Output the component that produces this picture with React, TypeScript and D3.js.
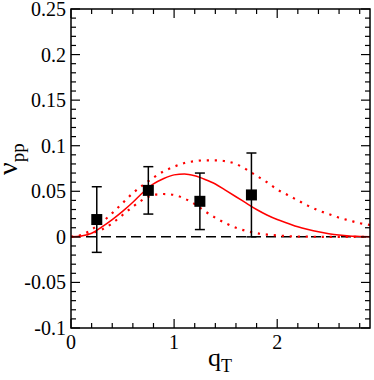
import React, { useEffect, useRef } from 'react';
import * as d3 from 'd3';

// measured points (q_T, nu_pp, error)
const pointQ = [0.25, 0.75, 1.25, 1.75];
const pointV = [0.019, 0.051, 0.039, 0.046];
const pointErr = [0.036, 0.026, 0.031, 0.046];

// curves
const curveQ = [0, 0.1, 0.2, 0.3, 0.4, 0.5, 0.6, 0.7, 0.8, 0.9, 1.0, 1.1, 1.2, 1.3, 1.4,
  1.5, 1.6, 1.7, 1.8, 1.9, 2.0, 2.1, 2.2, 2.3, 2.4, 2.5, 2.6, 2.7, 2.8, 2.9];
const centralV = [0, 0.001, 0.004, 0.011, 0.019, 0.028, 0.038, 0.049, 0.058, 0.064, 0.068,
  0.069, 0.067, 0.063, 0.058, 0.051, 0.044, 0.037, 0.030, 0.024, 0.019, 0.015, 0.011,
  0.008, 0.0055, 0.0035, 0.002, 0.001, 0.0005, 0];
const upperV = [0, 0.002, 0.008, 0.016, 0.026, 0.037, 0.048, 0.057, 0.065, 0.072, 0.077,
  0.081, 0.083, 0.084, 0.084, 0.083, 0.080, 0.074, 0.067, 0.060, 0.052, 0.046, 0.040,
  0.034, 0.029, 0.025, 0.021, 0.018, 0.015, 0.013];
const lowerV = [0, 0.001, 0.004, 0.008, 0.015, 0.024, 0.033, 0.041, 0.046, 0.047, 0.046,
  0.042, 0.036, 0.028, 0.021, 0.015, 0.010, 0.0065, 0.004, 0.0025, 0.0015, 0.0008, 0.0004,
  0.0002, 0.0001, 0, 0, 0, 0, 0];

const yTicks = [0.25, 0.2, 0.15, 0.1, 0.05, 0, -0.05, -0.1];
const yTickLabels = ['0.25', '0.2', '0.15', '0.1', '0.05', '0', '-0.05', '-0.1'];
const xTicks = [0, 1, 2];
const xTickLabels = ['0', '1', '2'];

const W = 374;
const H = 380;
const margin = { top: 9, right: 4, bottom: 52, left: 71 };
const width = W - margin.left - margin.right;
const height = H - margin.top - margin.bottom;
const serif = { fontFamily: "'Times New Roman'" };

export default function App() {
  const plotRef = useRef(null);

  const x = d3.scaleLinear().domain([0, 2.9]).range([0, width]);
  const y = d3.scaleLinear().domain([-0.1, 0.25]).range([height, 0]);

  useEffect(() => {
    const svg = d3.select(plotRef.current);
    svg.selectAll('*').remove();

    // zero line
    svg.append('line')
      .attr('x1', 0).attr('x2', width)
      .attr('y1', y(0)).attr('y2', y(0))
      .attr('stroke', 'black')
      .attr('stroke-width', 1.5)
      .attr('stroke-dasharray', '10 5');

    const line = d3.line()
      .x(d => x(d[0]))
      .y(d => y(d[1]))
      .curve(d3.curveMonotoneX);

    [upperV, lowerV].forEach(vals => {
      svg.append('path')
        .datum(curveQ.map((q, i) => [q, vals[i]]))
        .attr('d', line)
        .attr('fill', 'none')
        .attr('stroke', 'red')
        .attr('stroke-width', 2.2)
        .attr('stroke-dasharray', '2.2 5.8');
    });

    svg.append('path')
      .datum(curveQ.map((q, i) => [q, centralV[i]]))
      .attr('d', line)
      .attr('fill', 'none')
      .attr('stroke', 'red')
      .attr('stroke-width', 1.5);

    // error bars + squares
    pointQ.forEach((q, i) => {
      const cx = x(q);
      const top = y(pointV[i] + pointErr[i]);
      const bot = y(pointV[i] - pointErr[i]);
      svg.append('line')
        .attr('x1', cx).attr('x2', cx).attr('y1', top).attr('y2', bot)
        .attr('stroke', 'black').attr('stroke-width', 1.5);
      [top, bot].forEach(yy => {
        svg.append('line')
          .attr('x1', cx - 5).attr('x2', cx + 5).attr('y1', yy).attr('y2', yy)
          .attr('stroke', 'black').attr('stroke-width', 1.5);
      });
      svg.append('rect')
        .attr('x', cx - 5.5).attr('y', y(pointV[i]) - 5.5)
        .attr('width', 11).attr('height', 11)
        .attr('fill', 'black');
    });

    // ticks on all sides, pointing inward
    const ticks = svg.append('g').attr('stroke', 'black').attr('stroke-width', 1.2);
    d3.range(0, 2.9001, 0.2).forEach(v => {
      const major = Math.abs(v - Math.round(v)) < 1e-6;
      const len = major ? 9 : 5;
      ticks.append('line').attr('x1', x(v)).attr('x2', x(v))
        .attr('y1', height).attr('y2', height - len);
      ticks.append('line').attr('x1', x(v)).attr('x2', x(v))
        .attr('y1', 0).attr('y2', len);
    });
    d3.range(-0.1, 0.2501, 0.01).forEach(v => {
      const major = Math.abs(v * 20 - Math.round(v * 20)) < 1e-6;
      const len = major ? 9 : 5;
      ticks.append('line').attr('y1', y(v)).attr('y2', y(v))
        .attr('x1', 0).attr('x2', len);
      ticks.append('line').attr('y1', y(v)).attr('y2', y(v))
        .attr('x1', width).attr('x2', width - len);
    });

    // frame
    svg.append('rect')
      .attr('width', width).attr('height', height)
      .attr('fill', 'none').attr('stroke', 'black').attr('stroke-width', 1.5);
  }, []);

  return (
    <svg width={W} height={H} style={{ position: 'absolute', left: 0, top: 0 }}>
      <g transform={`translate(${margin.left}, ${margin.top})`}>
        <g ref={plotRef}></g>
        {yTicks.map((v, i) => (
          <text key={'y' + i} x={-5} y={y(v) + 7} textAnchor="end"
            style={{ ...serif, fontSize: '20px' }}>{yTickLabels[i]}</text>
        ))}
        {xTicks.map((v, i) => (
          <text key={'x' + i} x={x(v)} y={height + 21} textAnchor="middle"
            style={{ ...serif, fontSize: '20px' }}>{xTickLabels[i]}</text>
        ))}
      </g>
      <text x={208} y={366} style={{ ...serif, fontSize: '26px' }}>
        q<tspan dy={6} style={{ fontSize: '18px' }}>T</tspan>
      </text>
      <text transform="translate(17, 175) rotate(-90)" style={{ ...serif, fontSize: '28px' }}>
        {'\u03bd'}<tspan dy={7} style={{ fontSize: '19px' }}>pp</tspan>
      </text>
    </svg>
  );
}
